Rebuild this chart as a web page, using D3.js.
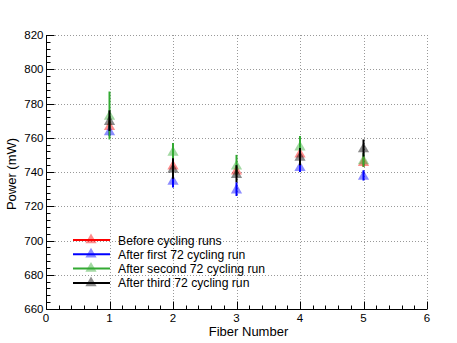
<!DOCTYPE html>
<html>
<head>
<meta charset="utf-8">
<script src="https://cdn.jsdelivr.net/npm/d3@7"></script>
<style>
  body { margin: 0; background: #fff; }
  svg { font-family: "Liberation Sans", Arial, sans-serif; }
</style>
</head>
<body>
<svg id="chart" width="457" height="343"></svg>
<script>
// fiber numbers and measured power per run (mW), with errors
const fibers = [1, 2, 3, 4, 5];
const beforeVals = [767, 744, 741, 751, 746];
const beforeErr = [3, 3, 2, 3, 3];
const firstVals = [764, 735, 730, 743, 738];
const firstErr = [3, 4, 4, 3, 3];
const secondVals = [773, 752, 744, 755, 747];
const secondErr = [14, 5, 6, 6, 4];
const thirdVals = [770, 742, 739, 749, 754];
const thirdErr = [6, 6, 5, 5, 5];
const seriesNames = ["Before cycling runs", "After first 72 cycling run", "After second 72 cycling run", "After third 72 cycling run"];
const seriesColors = ["#ff0000", "#0000ff", "#33aa33", "#000000"];

const series = [
    { name: seriesNames[0], vals: beforeVals, errs: beforeErr, color: seriesColors[0] },
    { name: seriesNames[1], vals: firstVals, errs: firstErr, color: seriesColors[1] },
    { name: seriesNames[2], vals: secondVals, errs: secondErr, color: seriesColors[2] },
    { name: seriesNames[3], vals: thirdVals, errs: thirdErr, color: seriesColors[3] }
];

const svg = d3.select("#chart");
const margin = { top: 35, right: 30, bottom: 34, left: 46 };
const W = 457, H = 343;

const x = d3.scaleLinear().domain([0, 6]).range([margin.left, W - margin.right]);
const y = d3.scaleLinear().domain([660, 820]).range([H - margin.bottom, margin.top]);

const xMajor = d3.range(0, 7, 1);
const xMinor = d3.range(0, 6.01, 0.2);
const yMajor = d3.range(660, 821, 20);
const yMinor = d3.range(660, 821, 4);

// dotted grid
const grid = svg.append("g").attr("stroke", "#999").attr("stroke-width", 1).attr("stroke-dasharray", "1,2");
grid.selectAll("line.gx").data(xMajor.slice(1)).enter().append("line")
    .attr("x1", d => Math.round(x(d)) + 0.5).attr("x2", d => Math.round(x(d)) + 0.5)
    .attr("y1", y(660)).attr("y2", y(820));
grid.selectAll("line.gy").data(yMajor.slice(1)).enter().append("line")
    .attr("x1", x(0)).attr("x2", x(6))
    .attr("y1", d => Math.round(y(d)) + 0.5).attr("y2", d => Math.round(y(d)) + 0.5);

// axes
const axes = svg.append("g").attr("stroke", "#000").attr("stroke-width", 1);
const y0 = Math.round(y(660)) + 0.5, x0 = Math.round(x(0)) + 0.5;
axes.append("line").attr("x1", x0).attr("x2", x(6)).attr("y1", y0).attr("y2", y0);
axes.append("line").attr("x1", x0).attr("x2", x0).attr("y1", y(820)).attr("y2", y0);
axes.selectAll("line.xt").data(xMinor).enter().append("line")
    .attr("x1", d => Math.round(x(d)) + 0.5).attr("x2", d => Math.round(x(d)) + 0.5)
    .attr("y1", y0).attr("y2", d => y0 - (Math.abs(d - Math.round(d)) < 1e-6 ? 8 : 4));
axes.selectAll("line.yt").data(yMinor).enter().append("line")
    .attr("y1", d => Math.round(y(d)) + 0.5).attr("y2", d => Math.round(y(d)) + 0.5)
    .attr("x1", x0).attr("x2", d => x0 + (d % 20 === 0 ? 8 : 4));

svg.append("g").selectAll("text").data(xMajor).enter().append("text")
    .attr("x", d => x(d)).attr("y", y0 + 12)
    .attr("text-anchor", "middle").attr("font-size", 11.5).text(d => d);
svg.append("g").selectAll("text").data(yMajor).enter().append("text")
    .attr("x", x0 - 3).attr("y", d => y(d) + 4)
    .attr("text-anchor", "end").attr("font-size", 11.5).text(d => d);

svg.append("text").attr("x", (x(0) + x(6)) / 2 + 12).attr("y", 336)
    .attr("text-anchor", "middle").attr("font-size", 13).text("Fiber Number");
svg.append("text").attr("transform", `translate(16,${(y(660) + y(820)) / 2 + 2}) rotate(-90)`)
    .attr("text-anchor", "middle").attr("font-size", 13).text("Power (mW)");

const tri = d3.symbol().type(d3.symbolTriangle).size(55);

// error bars and markers
series.forEach(s => {
    const g = svg.append("g");
    g.selectAll("line").data(fibers).enter().append("line")
        .attr("x1", d => x(d)).attr("x2", d => x(d))
        .attr("y1", (d, i) => y(s.vals[i] - s.errs[i]))
        .attr("y2", (d, i) => y(s.vals[i] + s.errs[i]))
        .attr("stroke", s.color).attr("stroke-width", 2);
    g.selectAll("path").data(fibers).enter().append("path")
        .attr("d", tri)
        .attr("transform", (d, i) => `translate(${x(d)},${y(s.vals[i]) + 1})`)
        .attr("fill", s.color).attr("fill-opacity", 0.45);
});

// legend
const leg = svg.append("g");
series.forEach((s, i) => {
    const ly = 240 + i * 14.3;
    leg.append("line").attr("x1", 73).attr("x2", 110).attr("y1", ly).attr("y2", ly)
        .attr("stroke", s.color).attr("stroke-width", 2);
    leg.append("path").attr("d", tri).attr("transform", `translate(91,${ly})`)
        .attr("fill", s.color).attr("fill-opacity", 0.45);
    leg.append("text").attr("x", 118).attr("y", ly + 4.5).attr("font-size", 12.2).text(s.name);
});
</script>
</body>
</html>
